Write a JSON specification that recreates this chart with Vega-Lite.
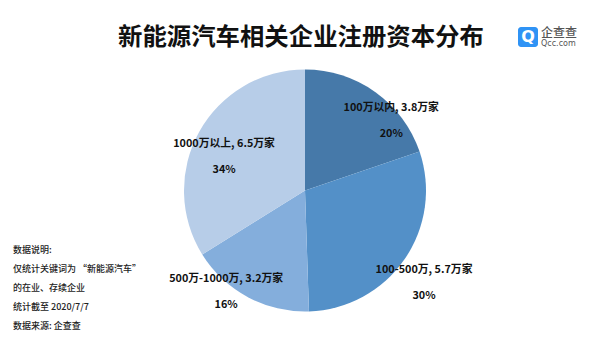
{"$schema":"https://vega.github.io/schema/vega-lite/v6.json","width":570,"height":325,"autosize":{"type":"none"},"padding":{"left":20,"top":28,"right":10,"bottom":0},"background":"white","view":{"stroke":null},"title":{"text":"新能源汽车相关企业注册资本分布","font":"Noto Sans CJK SC","fontSize":24.4,"fontWeight":"bold","color":"#111111","anchor":"start","frame":"group","offset":-3,"dx":98,"baseline":"middle","dy":32},"datasets":{"slices":[{"rank":1,"name":"100万以内","value":3.8,"label":"100万以内, 3.8万家\n20%"},{"rank":2,"name":"100-500万","value":5.7,"label":"100-500万, 5.7万家\n30%"},{"rank":3,"name":"500万-1000万","value":3.2,"label":"500万-1000万, 3.2万家\n16%"},{"rank":4,"name":"1000万以上","value":6.5,"label":"1000万以上, 6.5万家\n34%"}],"notes":[{"line":"数据说明:"},{"line":"仅统计关键词为 “新能源汽车”"},{"line":"的在业、存续企业"},{"line":"统计截至 2020/7/7"},{"line":"数据来源: 企查查"}],"brand":[{"cn":"企查查","en":"Qcc.com","icon":"Q"}]},"layer":[{"data":{"name":"slices"},"mark":{"type":"arc","outerRadius":121},"encoding":{"theta":{"field":"value","type":"quantitative","stack":true},"order":{"field":"rank"},"color":{"field":"name","type":"nominal","sort":null,"legend":null,"scale":{"domain":["100万以内","100-500万","500万-1000万","1000万以上"],"range":["#4679A9","#5390C8","#84AEDC","#B7CDE8"]}}}},{"data":{"name":"slices"},"transform":[{"stack":"value","groupby":[],"sort":[{"field":"rank"}],"as":["v0","v1"]},{"calculate":"(datum.v0+datum.v1)/2","as":"mid"},{"filter":"datum.rank===1"}],"mark":{"type":"text","radius":112,"dx":21,"dy":8.5,"lineBreak":"\n","lineHeight":26,"font":"Noto Sans CJK SC","fontSize":10.8,"fontWeight":"bold","color":"#111111"},"encoding":{"text":{"field":"label"},"theta":{"field":"mid","type":"quantitative","scale":{"domain":[0,19.2]}}}},{"data":{"name":"slices"},"transform":[{"stack":"value","groupby":[],"sort":[{"field":"rank"}],"as":["v0","v1"]},{"calculate":"(datum.v0+datum.v1)/2","as":"mid"},{"filter":"datum.rank===2"}],"mark":{"type":"text","radius":149,"dx":-3.5,"dy":-5.3,"lineBreak":"\n","lineHeight":26,"font":"Noto Sans CJK SC","fontSize":10.8,"fontWeight":"bold","color":"#111111"},"encoding":{"text":{"field":"label"},"theta":{"field":"mid","type":"quantitative","scale":{"domain":[0,19.2]}}}},{"data":{"name":"slices"},"transform":[{"stack":"value","groupby":[],"sort":[{"field":"rank"}],"as":["v0","v1"]},{"calculate":"(datum.v0+datum.v1)/2","as":"mid"},{"filter":"datum.rank===3"}],"mark":{"type":"text","radius":127,"dx":-19,"dy":-23.5,"lineBreak":"\n","lineHeight":26,"font":"Noto Sans CJK SC","fontSize":10.8,"fontWeight":"bold","color":"#111111"},"encoding":{"text":{"field":"label"},"theta":{"field":"mid","type":"quantitative","scale":{"domain":[0,19.2]}}}},{"data":{"name":"slices"},"transform":[{"stack":"value","groupby":[],"sort":[{"field":"rank"}],"as":["v0","v1"]},{"calculate":"(datum.v0+datum.v1)/2","as":"mid"},{"filter":"datum.rank===4"}],"mark":{"type":"text","radius":88,"dx":-4,"dy":-3.3,"lineBreak":"\n","lineHeight":26,"font":"Noto Sans CJK SC","fontSize":10.8,"fontWeight":"bold","color":"#111111"},"encoding":{"text":{"field":"label"},"theta":{"field":"mid","type":"quantitative","scale":{"domain":[0,19.2]}}}},{"data":{"name":"notes"},"mark":{"type":"text","align":"left","baseline":"middle","font":"Noto Sans CJK SC","fontSize":9,"fontWeight":500,"color":"#222222"},"encoding":{"text":{"field":"line"},"x":{"value":-7},"y":{"field":"line","type":"ordinal","sort":null,"axis":null,"scale":{"type":"point","range":[222,298],"padding":0}}}},{"data":{"name":"brand"},"mark":{"type":"rect","cornerRadius":3,"color":"#2F93F5"},"encoding":{"x":{"value":498},"x2":{"value":518},"y":{"value":-1},"y2":{"value":19}}},{"data":{"name":"brand"},"mark":{"type":"text","font":"DejaVu Sans","fontSize":16,"fontWeight":"bold","color":"white","baseline":"middle"},"encoding":{"text":{"field":"icon"},"x":{"value":508},"y":{"value":8.5}}},{"data":{"name":"brand"},"mark":{"type":"text","align":"left","baseline":"middle","font":"Noto Sans CJK SC","fontSize":12,"fontWeight":500,"color":"#555555"},"encoding":{"text":{"field":"cn"},"x":{"value":521},"y":{"value":5}}},{"data":{"name":"brand"},"mark":{"type":"text","align":"left","baseline":"middle","font":"DejaVu Sans","fontSize":8,"color":"#555555"},"encoding":{"text":{"field":"en"},"x":{"value":521},"y":{"value":16}}}]}
